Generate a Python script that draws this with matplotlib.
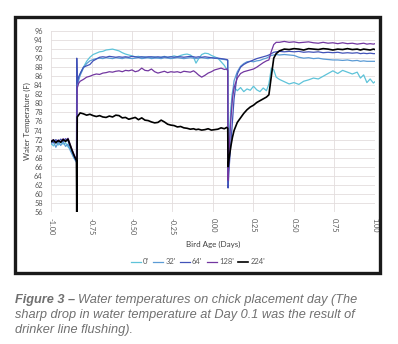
import matplotlib
matplotlib.use('Agg')
import matplotlib.pyplot as plt
from matplotlib.patches import Rectangle

# Bird age (days) shared by every probe reading
age = [-1.00, -0.985, -0.97, -0.955, -0.94, -0.925, -0.91, -0.895, -0.88, -0.87, -0.86, -0.85, -0.843,
       -0.841, -0.838,
       -0.83, -0.82, -0.80, -0.78, -0.76, -0.74, -0.72, -0.70, -0.68, -0.66,
       -0.64, -0.62, -0.60, -0.58, -0.56, -0.54, -0.52, -0.50, -0.48, -0.46,
       -0.44, -0.42, -0.40, -0.38, -0.36, -0.34, -0.32, -0.30, -0.28, -0.26,
       -0.24, -0.22, -0.20, -0.18, -0.16, -0.14, -0.12, -0.105, -0.09, -0.07,
       -0.05, -0.03, -0.01, 0.01, 0.03, 0.05, 0.07, 0.085, 0.091,
       0.093,
       0.10, 0.11, 0.12, 0.13, 0.15, 0.17, 0.19, 0.21, 0.23, 0.25,
       0.27, 0.29, 0.31, 0.33, 0.345, 0.36, 0.375, 0.39, 0.41, 0.44,
       0.47, 0.50, 0.53, 0.56, 0.59, 0.62, 0.65, 0.68, 0.71, 0.74,
       0.77, 0.80, 0.83, 0.86, 0.89, 0.91, 0.93, 0.95, 0.97, 0.99,
       1.00]

# Water temperature (F) at each distance along the drinker line
temp_0 = [71.2, 70.6, 71.5, 70.8, 71.4, 71.0, 71.3, 70.4, 69.8, 69.0, 68.2, 67.6, 67.2,
          67.0, 84.0,
          85.5, 86.5, 88.0, 89.3, 90.2, 90.8, 91.1, 91.4, 91.5, 91.8,
          91.9, 92.0, 91.8, 91.6, 91.2, 90.9, 90.7, 90.5, 90.3, 90.4,
          90.2, 90.3, 90.1, 90.2, 90.3, 90.1, 90.2, 90.4, 90.2, 90.3,
          90.5, 90.3, 90.6, 90.8, 90.9, 90.7, 90.2, 88.9, 89.8, 90.8,
          91.1, 91.0, 90.6, 90.3, 90.0, 89.2, 88.4, 87.5, 87.2,
          64.0,
          72.0, 79.0, 82.5, 83.6, 82.8, 83.5, 82.6, 83.2, 82.9, 83.8,
          83.0, 82.6, 83.4, 82.8, 84.3, 87.8, 87.4, 85.8, 85.3, 84.8,
          84.3, 84.6, 84.2, 84.9, 85.2, 85.6, 85.4, 86.0, 86.6, 87.2,
          86.6, 87.3, 86.9, 86.5, 86.9, 85.6, 86.3, 84.6, 85.4, 84.5,
          84.8]
temp_32 = [71.0, 71.6, 70.3, 71.4, 70.7, 71.5, 70.5, 71.0, 69.5, 68.8, 68.0, 67.4, 67.0,
           67.2, 83.5,
           85.0, 86.2, 87.8, 88.8, 89.4, 89.7, 89.9, 90.0, 89.9, 90.1,
           90.0, 89.9, 90.1, 90.0, 89.9, 90.1, 90.0, 89.9, 90.0, 90.1,
           89.9, 90.0, 90.1, 89.9, 90.0, 90.0, 89.9, 90.1, 90.0, 89.9,
           90.0, 90.1, 90.0, 89.9, 90.0, 90.1, 90.0, 89.9, 90.0, 90.1,
           90.0, 89.9, 90.1, 90.0, 89.9, 89.8, 89.7, 89.6, 89.5,
           62.5,
           70.0, 77.0, 82.0, 85.0, 87.0, 88.2, 88.8, 89.2, 89.3, 89.2,
           89.4, 89.5, 89.8, 90.0, 90.3, 90.6, 90.7, 90.8, 90.7, 90.8,
           90.7, 90.6, 90.2, 90.0, 90.1, 89.9, 90.0, 89.8, 89.7, 89.6,
           89.6, 89.5, 89.6, 89.4, 89.5, 89.3, 89.4, 89.3, 89.3, 89.3,
           89.3]
temp_64 = [71.8, 71.3, 72.0, 71.5, 72.1, 71.6, 72.2, 71.7, 70.4, 69.5, 68.6, 67.8, 67.3,
           90.0, 84.5,
           85.8, 86.6, 88.0, 88.3, 88.6, 89.4, 89.8, 90.2, 90.3, 90.2,
           90.4, 90.3, 90.2, 90.3, 90.2, 90.3, 90.2, 90.4, 90.3, 90.2,
           90.3, 90.2, 90.3, 90.3, 90.2, 90.3, 90.2, 90.3, 90.2, 90.3,
           90.2, 90.3, 90.3, 90.2, 90.3, 90.4, 90.3, 90.2, 90.3, 90.2,
           90.3, 90.2, 90.1, 90.0, 90.0, 89.9, 89.8, 89.7, 89.6,
           61.3,
           66.0, 71.0, 76.0, 81.0, 86.5, 88.0, 88.6, 89.0, 89.3, 89.6,
           89.9, 90.1, 90.3, 90.5, 90.7, 91.0, 91.3, 91.4, 91.5, 91.4,
           91.5, 91.4, 91.5, 91.3, 91.4, 91.3, 91.4, 91.2, 91.3, 91.2,
           91.3, 91.1, 91.2, 91.1, 91.2, 91.0, 91.1, 91.0, 91.1, 91.0,
           91.0]
temp_128 = [71.6, 72.0, 71.4, 71.9, 71.5, 72.2, 71.7, 72.3, 70.8, 69.8, 68.9, 68.0, 67.5,
            67.3, 83.4,
            84.4, 84.9, 85.3, 85.8, 86.0, 86.3, 86.5, 86.4, 86.7, 86.8,
            87.0, 86.9, 87.1, 87.2, 87.0, 87.3, 87.2, 87.4, 87.0, 87.2,
            87.8, 87.3, 87.2, 87.6, 87.0, 86.7, 86.9, 87.1, 86.8, 87.0,
            86.9, 87.0, 86.8, 87.1, 87.0, 86.9, 87.2, 86.8, 86.3, 85.8,
            86.2, 86.7, 87.0, 87.4, 87.6, 87.8, 87.5, 87.6, 87.3,
            63.0,
            70.0, 76.5, 81.0, 83.5, 85.6, 86.6, 87.0, 87.2, 87.4, 87.6,
            88.0, 88.5, 89.0, 89.4, 89.6, 91.5, 93.0, 93.5, 93.5, 93.7,
            93.5, 93.6, 93.4, 93.5, 93.6, 93.4, 93.3, 93.5, 93.3, 93.4,
            93.2, 93.4, 93.2, 93.3, 93.1, 93.2, 93.3, 93.1, 93.2, 93.1,
            93.2]
temp_224 = [71.5, 71.9, 71.3, 71.8, 71.4, 72.0, 71.6, 72.1, 70.6, 69.6, 68.7, 67.9, 67.4,
            56.0, 77.0,
            77.4, 77.9, 77.7, 77.4, 77.6, 77.3, 77.1, 77.3, 77.0, 76.9,
            77.2, 77.0, 77.4, 77.3, 76.8, 76.9, 76.5, 76.7, 76.9, 76.4,
            76.8, 76.3, 76.2, 75.9, 75.7, 75.8, 76.3, 75.9, 75.4, 75.2,
            75.1, 74.8, 74.9, 74.6, 74.5, 74.3, 74.4, 74.2, 74.3, 74.1,
            74.2, 74.4, 74.1, 74.2, 74.3, 74.6, 74.4, 74.7, 74.5,
            66.0,
            68.0, 70.5, 72.5, 74.0, 75.8, 76.8, 77.8, 78.6, 79.2, 79.6,
            80.2, 80.6, 81.0, 81.4, 81.9, 86.0, 90.0, 91.0, 91.6, 92.0,
            91.9, 92.1, 92.0, 91.8, 92.1, 92.0, 91.9, 92.1, 92.0, 91.8,
            92.0, 91.9, 92.1, 91.9, 92.0, 91.8, 92.0, 91.9, 91.8, 92.0,
            91.9]

series_labels = ["0'", "32'", "64'", "128'", "224'"]
series_values = [temp_0, temp_32, temp_64, temp_128, temp_224]
series_colors = ['#5EC3D9', '#5B9BD5', '#4152B8', '#7236A0', '#000000']
series_widths = [0.9, 0.9, 0.9, 0.9, 1.2]

x_ticks = [-1.00, -0.75, -0.50, -0.25, 0.00, 0.25, 0.50, 0.75, 1.00]
y_ticks = list(range(56, 97, 2))

for vals in series_values:
    assert len(vals) == len(age)

W, H = 398, 344
fig = plt.figure(figsize=(W / 100, H / 100), dpi=100)
fig.patch.set_facecolor('white')
plt.rcParams['font.family'] = ['Lato', 'DejaVu Sans']

# black frame round the chart
fig.patches.append(Rectangle((15 / W, 1 - 273 / H), 365 / W, 256 / H,
                             transform=fig.transFigure, fill=False,
                             edgecolor='#1a1a1a', linewidth=2.4))

ax = fig.add_axes([51 / W, 1 - 212 / H, 324 / W, 181 / H])
for lbl, vals, col, lw in zip(series_labels, series_values, series_colors, series_widths):
    ax.plot(age, vals, color=col, linewidth=lw, label=lbl)

ax.set_xlim(-1, 1)
ax.set_ylim(56, 96)
ax.set_xticks(x_ticks)
ax.set_xticklabels([f'{v:.2f}' for v in x_ticks], rotation=-90)
ax.set_yticks(y_ticks)
ax.grid(True, color='#E3DDDD', linewidth=0.6)
ax.set_axisbelow(True)
for s in ax.spines.values():
    s.set_visible(False)
ax.tick_params(length=0, labelsize=5.3, colors='#595959')
ax.tick_params(axis='x', pad=4)
ax.tick_params(axis='y', pad=6)

fig.text(213 / W, 1 - 244 / H, 'Bird Age (Days)', ha='center', va='center',
         fontsize=5.8, color='#404040')
fig.text(27 / W, 1 - 121 / H, 'Water Temperature (F)', ha='center', va='center',
         rotation=90, fontsize=5.6, color='#404040')

fig.legend(*ax.get_legend_handles_labels(), loc='center',
           bbox_to_anchor=(198 / W, 1 - 262 / H), ncol=5, frameon=False,
           fontsize=5.5, handlelength=1.3, handletextpad=0.25, columnspacing=0.6,
           labelcolor='#595959')

# caption under the frame
cap_font = ['Liberation Sans', 'DejaVu Sans']
cap_color = '#707070'
cap_size = 9.2
renderer = fig.canvas.get_renderer()
head = fig.text(15 / W, 1 - 300 / H, 'Figure 3 \u2013', fontsize=cap_size, style='italic',
                weight='bold', color=cap_color, family=cap_font, va='center')
hb = head.get_window_extent(renderer)
fig.text((hb.x1 + 3) / W, 1 - 300 / H,
         'Water temperatures on chick placement day (The', fontsize=cap_size,
         style='italic', color=cap_color, family=cap_font, va='center')
fig.text(15 / W, 1 - 315 / H,
         'sharp drop in water temperature at Day 0.1 was the result of',
         fontsize=cap_size, style='italic', color=cap_color, family=cap_font, va='center')
fig.text(15 / W, 1 - 330 / H, 'drinker line flushing).', fontsize=cap_size,
         style='italic', color=cap_color, family=cap_font, va='center')

fig.savefig('out.png', dpi=100)
